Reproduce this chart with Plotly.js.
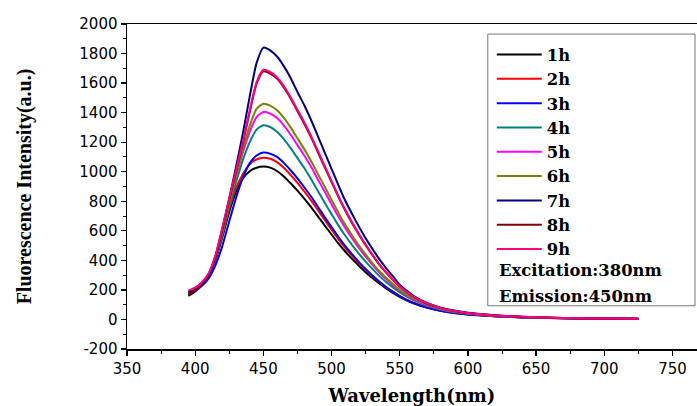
<!DOCTYPE html>
<html>
<head>
<meta charset="utf-8">
<script src="https://cdn.plot.ly/plotly-3.0.1.min.js"></script>
<style>html,body{margin:0;padding:0;background:#fff;overflow:hidden}</style>
</head>
<body>
<div id="chart" style="width:697px;height:406px"></div>
<script>
const wavelength = [395,400,405,410,415,420,425,430,435,440,445,450,455,460,465,470,475,480,485,490,495,500,505,510,515,520,525,530,535,540,545,550,555,560,570,580,590,600,620,640,660,680,700,725];

const h1 = [160,190,232,295,405,560,730,865,955,1003,1027,1035,1028,1005,968,922,872,818,760,698,636,575,515,460,410,364,320,280,243,210,180,153,130,110,80,59,44,34,22,14,10,7,5,3];
const h2 = [170,200,240,303,415,575,750,890,985,1050,1083,1095,1088,1065,1027,978,925,867,806,740,673,608,544,485,431,381,335,292,253,218,186,158,134,113,82,60,45,35,22,15,10,7,5,4];
const h3 = [175,195,228,280,370,500,665,825,960,1058,1110,1130,1122,1100,1060,1010,955,895,832,763,693,625,560,498,442,390,342,298,257,220,188,158,133,112,80,58,44,34,22,14,10,7,5,3];
const h4 = [180,205,242,303,415,580,765,930,1080,1200,1285,1315,1303,1270,1220,1160,1093,1025,950,870,790,713,637,568,505,446,392,342,295,254,217,184,156,131,94,67,50,38,24,16,11,7,5,4];
const h5 = [190,212,250,310,430,605,800,970,1130,1270,1370,1405,1393,1363,1314,1250,1180,1110,1033,948,864,780,697,620,550,485,425,370,318,273,232,196,165,138,99,70,52,40,25,16,11,8,5,4];
const h6 = [185,210,247,310,425,595,790,970,1150,1310,1425,1460,1447,1416,1365,1300,1226,1153,1073,985,898,810,723,642,570,502,440,382,328,282,240,202,170,142,102,72,54,41,26,17,11,8,5,4];
const h7 = [185,205,242,305,430,615,820,1035,1260,1510,1735,1840,1822,1780,1715,1635,1540,1450,1350,1240,1130,1020,910,805,715,630,550,478,408,348,293,235,195,160,112,80,60,45,28,18,12,8,6,4];
const h8 = [165,195,237,305,430,615,810,1000,1195,1405,1595,1680,1665,1630,1570,1495,1410,1325,1233,1132,1030,930,830,738,653,575,502,435,371,317,267,222,186,153,108,77,57,43,27,17,12,8,6,4];
const h9 = [195,215,252,315,440,625,820,1010,1205,1415,1605,1690,1675,1640,1580,1505,1420,1335,1242,1141,1039,938,837,744,659,580,507,440,375,321,270,225,188,155,110,78,58,44,27,18,12,8,6,4];

const seriesNames = ["1h","2h","3h","4h","5h","6h","7h","8h","9h"];
const seriesValues = [h1,h2,h3,h4,h5,h6,h7,h8,h9];
const seriesColors = ["#000000","#ff0000","#0000ff","#008080","#ff00ff","#808000","#000080","#800000","#ff0080"];
const noteLines = ["Excitation:380nm","Emission:450nm"];
const xTickVals = [350,400,450,500,550,600,650,700,750];
const yTickVals = [-200,0,200,400,600,800,1000,1200,1400,1600,1800,2000];
const yTickText = ["-200","0","200","400","600","800","1000","1200","1400","1600","1800","2000"];

const traces = seriesNames.map((n,i)=>({
  type:"scatter", mode:"lines", name:n, x:wavelength, y:seriesValues[i],
  line:{color:seriesColors[i], width:2, shape:"spline", smoothing:0.6}
}));

const serif = "DejaVu Serif";
const layout = {
  width:697, height:406,
  margin:{l:127, r:0, t:24, b:57},
  paper_bgcolor:"#fff", plot_bgcolor:"#fff",
  showlegend:true,
  legend:{x:0.64, y:0.959, xanchor:"left", yanchor:"top", bgcolor:"rgba(0,0,0,0)",
    borderwidth:0, font:{family:serif, size:16.4, color:"#000", weight:"bold"}, itemwidth:45},
  xaxis:{range:[350,768], tickvals:xTickVals,
    ticks:"outside", ticklen:5, tickwidth:1.3, tickcolor:"#000",
    minor:{dtick:25, tick0:350, ticks:"outside", ticklen:3, tickwidth:1, tickcolor:"#000"},
    showline:true, linecolor:"#000", linewidth:1.5, mirror:true,
    showgrid:false, zeroline:false,
    tickfont:{family:"DejaVu Sans", size:15, color:"#000"},
    title:{text:"Wavelength(nm)", font:{family:serif, size:18, color:"#000", weight:"bold"}, standoff:14}},
  yaxis:{range:[-200,2000], tickvals:yTickVals, ticktext:yTickText,
    ticks:"outside", ticklen:5, tickwidth:1.3, tickcolor:"#000",
    minor:{dtick:100, tick0:0, ticks:"outside", ticklen:3, tickwidth:1, tickcolor:"#000"},
    showline:true, linecolor:"#000", linewidth:1.5, mirror:false,
    showgrid:false, zeroline:false,
    tickfont:{family:"DejaVu Sans", size:15, color:"#000"},
    title:{text:"Fluorescence Intensity(a.u.)", font:{family:"Liberation Serif", size:20, color:"#000", weight:"bold"}, standoff:42}},
  shapes:[{type:"rect", xref:"paper", yref:"paper", x0:0.633, x1:0.9965, y0:0.133, y1:0.969,
    line:{color:"#777", width:1}, fillcolor:"rgba(0,0,0,0)"}],
  annotations: noteLines.map((t,i)=>({
    text:t, xref:"paper", yref:"paper", x:0.649, y:[0.242,0.162][i], xanchor:"left", yanchor:"middle",
    showarrow:false, font:{family:serif, size:16.4, color:"#000", weight:"bold"}
  }))
};

Plotly.newPlot("chart", traces, layout, {displayModeBar:false, staticPlot:true});
</script>
</body>
</html>
